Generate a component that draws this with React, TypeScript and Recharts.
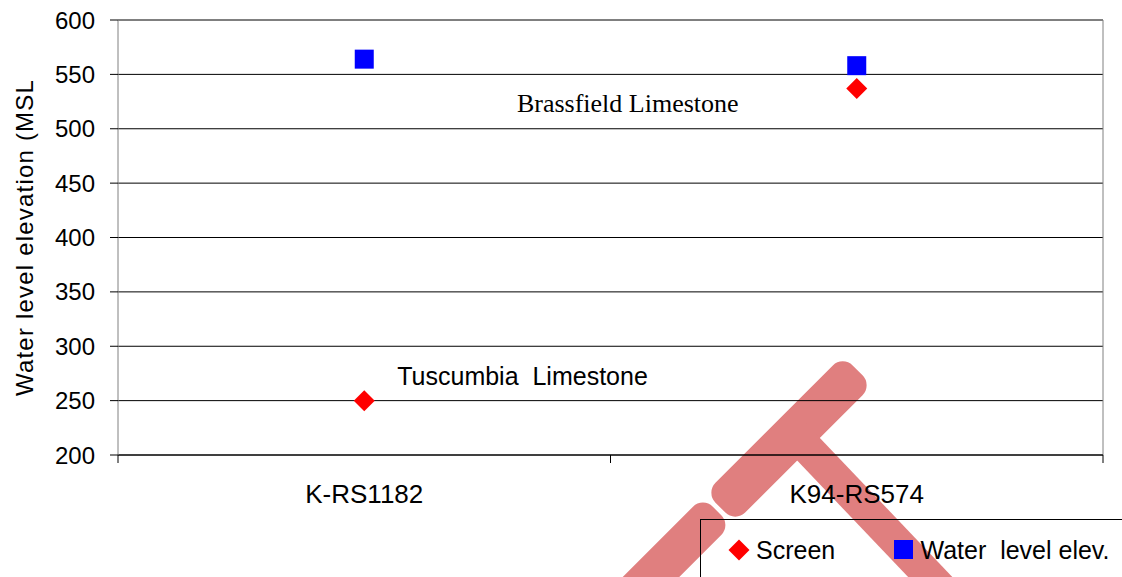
import React from 'react';
import {
  ScatterChart,
  Scatter,
  XAxis,
  YAxis,
  CartesianGrid,
  ReferenceLine,
  ReferenceDot,
  Legend,
} from 'recharts';

const categories = ['K-RS1182', 'K94-RS574'];
const screenValues = [250, 537];
const waterLevelValues = [564, 558];
const yTicks = [200, 250, 300, 350, 400, 450, 500, 550, 600];
const xTicks = [0, 0.5, 1, 1.5, 2];
const annotationTexts = ['Brassfield Limestone', 'Tuscumbia  Limestone'];
const annotationX = [0.81, 0.567];
const annotationY = [515, 264];
const annotationSerif = [true, false];

const SANS = '"Liberation Sans", Arial, Helvetica, sans-serif';
const SERIF = '"Liberation Serif", "Times New Roman", serif';

const screenData = categories.map((name, i) => ({ x: i + 0.5, y: screenValues[i], name }));
const waterData = categories.map((name, i) => ({ x: i + 0.5, y: waterLevelValues[i], name }));

const DiamondShape = (props: any) => {
  const { cx, cy } = props;
  const r = 10.5;
  return (
    <polygon
      points={`${cx},${cy - r} ${cx + r},${cy} ${cx},${cy + r} ${cx - r},${cy}`}
      fill="#ff0000"
    />
  );
};

const SquareShape = (props: any) => {
  const { cx, cy } = props;
  return <rect x={cx - 9.5} y={cy - 9.5} width={19} height={19} fill="#0000ff" />;
};

const XTick = (props: any) => {
  const { x, y, payload } = props;
  const v = payload.value;
  if (Number.isInteger(v)) {
    return <line x1={x} y1={y} x2={x} y2={y + 8} stroke="#000" strokeWidth={1} />;
  }
  const name = categories[Math.floor(v)];
  return (
    <text x={x} y={y + 48} textAnchor="middle" fontSize={26} fontFamily={SANS} fill="#000">
      {name}
    </text>
  );
};

const YLabel = (props: any) => {
  const vb = props.viewBox || { x: 0, y: 20, width: 118, height: 435 };
  const cx = 33;
  const cy = vb.y + vb.height / 2;
  return (
    <text
      x={cx}
      y={cy}
      transform={`rotate(-90 ${cx} ${cy})`}
      textAnchor="middle"
      fontSize={24}
      letterSpacing={1.2}
      fontFamily={SANS}
      fill="#000"
    >
      Water level elevation (MSL
    </text>
  );
};

const LegendContent = (props: any) => {
  const payload = props.payload || [];
  const itemX = [38, 202.5];
  return (
    <svg width={430} height={60} style={{ display: 'block', overflow: 'visible' }}>
      {payload.map((entry: any, i: number) => {
        const cx = itemX[i] ?? 38 + i * 165;
        const cy = 30;
        const isDiamond = entry.type === 'diamond';
        return (
          <g key={i}>
            {isDiamond ? (
              <polygon
                points={`${cx},${cy - 10.5} ${cx + 10.5},${cy} ${cx},${cy + 10.5} ${cx - 10.5},${cy}`}
                fill={entry.color}
              />
            ) : (
              <rect x={cx - 9.5} y={cy - 10} width={19} height={19} fill={entry.color} />
            )}
            <text
              x={cx + 17}
              y={39}
              fontSize={25}
              fontFamily={SANS}
              fill="#000"
              style={{ whiteSpace: 'pre' }}
            >
              {entry.value}
            </text>
          </g>
        );
      })}
    </svg>
  );
};

const Watermark = () => (
  <svg
    width={1122}
    height={577}
    style={{ position: 'absolute', left: 0, top: 0, zIndex: 0 }}
  >
    <g fill="#e07f7f">
      <rect x={789 - 97} y={439 - 21} width={194} height={42} rx={14} transform="rotate(-45 789 439)" />
      <rect x={664 - 75} y={564 - 20} width={150} height={40} rx={14} transform="rotate(-45 664 564)" />
    </g>
    <line x1={794} y1={434} x2={995} y2={645} stroke="#e07f7f" strokeWidth={32} strokeLinecap="butt" />
  </svg>
);

export default function App() {
  return (
    <div
      style={{
        position: 'absolute',
        left: 0,
        top: 0,
        width: 1122,
        height: 577,
        overflow: 'hidden',
        background: '#fff',
        fontFamily: SANS,
      }}
    >
      <Watermark />
      <div style={{ position: 'relative', zIndex: 1 }}>
        <ScatterChart
          width={1122}
          height={577}
          margin={{ top: 20, right: 19, bottom: 0, left: 0 }}
        >
          <CartesianGrid vertical={false} stroke="#000" strokeWidth={1} />
          <XAxis
            type="number"
            dataKey="x"
            domain={[0, 2]}
            ticks={xTicks}
            interval={0}
            height={122}
            tickSize={0}
            tickMargin={0}
            tickLine={false}
            axisLine={{ stroke: '#000' }}
            tick={<XTick />}
            allowDataOverflow
          />
          <YAxis
            type="number"
            dataKey="y"
            domain={[200, 600]}
            ticks={yTicks}
            interval={0}
            width={118}
            tickSize={8}
            tickMargin={15}
            axisLine={{ stroke: '#808080' }}
            tickLine={{ stroke: '#000' }}
            tick={{ fontSize: 24, fill: '#000', fontFamily: SANS }}
            label={<YLabel />}
            allowDataOverflow
          />
          <ReferenceLine y={600} stroke="#808080" strokeWidth={1} />
          <ReferenceLine x={2} stroke="#808080" strokeWidth={1} />
          {annotationTexts.map((t, i) => (
            <ReferenceDot
              key={t}
              x={annotationX[i]}
              y={annotationY[i]}
              r={0}
              shape={(p: any) => (
                <text
                  x={p.cx}
                  y={p.cy}
                  fontSize={annotationSerif[i] ? 26 : 25}
                  fontFamily={annotationSerif[i] ? SERIF : SANS}
                  fill="#000"
                  style={{ whiteSpace: 'pre' }}
                >
                  {t}
                </text>
              )}
            />
          ))}
          <Scatter
            name="Screen"
            data={screenData}
            fill="#ff0000"
            legendType="diamond"
            shape={<DiamondShape />}
            isAnimationActive={false}
          />
          <Scatter
            name="Water  level elev."
            data={waterData}
            fill="#0000ff"
            legendType="square"
            shape={<SquareShape />}
            isAnimationActive={false}
          />
          <Legend
            layout="horizontal"
            verticalAlign="middle"
            align="center"
            content={<LegendContent />}
            wrapperStyle={{
              position: 'absolute',
              left: 700,
              top: 519,
              width: 440,
              height: 80,
              borderLeft: '1px solid #000',
              borderTop: '1px solid #000',
              boxSizing: 'border-box',
              margin: 0,
              padding: 0,
            }}
          />
        </ScatterChart>
      </div>
    </div>
  );
}
